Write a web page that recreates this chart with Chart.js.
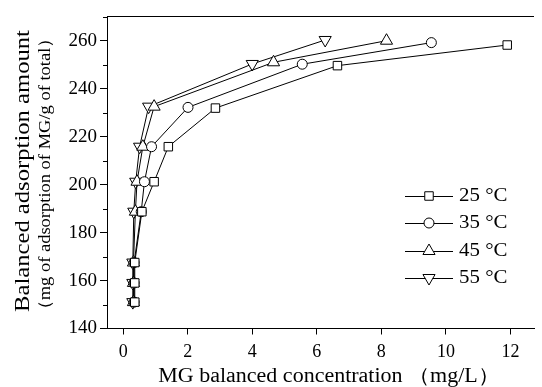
<!DOCTYPE html>
<html lang="en">
<head>
  <meta charset="UTF-8">
  <title>MG adsorption isotherms</title>
  <script src="https://cdn.jsdelivr.net/npm/chart.js"></script>
  <style>
    body {
      margin: 0;
      padding: 0;
      background: #fff;
    }

    #wrap {
      width: 542px;
      height: 387px;
      position: relative;
    }
  </style>
</head>
<body>
  <div id="wrap">
    <canvas id="isoChart"></canvas>
  </div>

  <script>
    // data
    const seriesLabels = ['25 \u00B0C', '35 \u00B0C', '45 \u00B0C', '55 \u00B0C'];

    const x25 = [0.36, 0.36, 0.36, 0.58, 0.96, 1.40, 2.86, 6.64, 11.9];
    const y25 = [151, 159, 167.5, 188.7, 201.2, 215.8, 231.9, 249.6, 258.2];

    const x35 = [0.34, 0.34, 0.34, 0.56, 0.66, 0.88, 2.01, 5.55, 9.55];
    const y35 = [151, 159, 167.5, 188.7, 201.2, 215.8, 232.2, 250.2, 259.2];

    const x45 = [0.32, 0.32, 0.32, 0.38, 0.43, 0.61, 0.96, 4.66, 8.16];
    const y45 = [151, 159, 167.5, 188.7, 201.2, 215.8, 232.5, 251, 260];

    const x55 = [0.30, 0.30, 0.30, 0.33, 0.39, 0.51, 0.79, 4.0, 6.26];
    const y55 = [151, 159, 167.5, 188.7, 201.2, 215.8, 232.5, 250.3, 260.3];

    const xTicks = [0, 2, 4, 6, 8, 10, 12];
    const yTicks = [140, 160, 180, 200, 220, 240, 260];
    const yMinorTicks = [150, 170, 190, 210, 230, 250, 270];

    const serif = "'Liberation Serif', 'Times New Roman', serif";

    const markers = [
      { style: 'rect', radius: 6, rotation: 0 },
      { style: 'circle', radius: 5, rotation: 0 },
      { style: 'triangle', radius: 7, rotation: 0 },
      { style: 'triangle', radius: 7, rotation: 180 }
    ];

    const toPoints = (xs, ys) => xs.map((x, i) => ({ x: x, y: ys[i] }));
    const allX = [x25, x35, x45, x55];
    const allY = [y25, y35, y45, y55];

    const datasets = seriesLabels.map((label, i) => ({
      label: label,
      data: toPoints(allX[i], allY[i]),
      showLine: true,
      borderColor: '#000',
      borderWidth: 1,
      backgroundColor: '#fff',
      pointStyle: markers[i].style,
      pointRadius: markers[i].radius,
      pointRotation: markers[i].rotation,
      pointBorderColor: '#000',
      pointBackgroundColor: '#fff',
      pointBorderWidth: 1
    }));

    // the reference type is a bit wider than Liberation Serif, so stretch it
    const wideText = (ctx, text, x, y, angle, stretch) => {
      ctx.save();
      ctx.translate(x, y);
      ctx.rotate(angle);
      ctx.scale(stretch, 1);
      ctx.fillText(text, 0, 0);
      ctx.restore();
    };

    // titles, top frame line, minor ticks and the legend
    const decorPlugin = {
      id: 'decor',
      afterDraw(chart) {
        const ctx = chart.ctx;
        const area = chart.chartArea;
        const ys = chart.scales.y;
        ctx.save();
        ctx.strokeStyle = '#000';
        ctx.lineWidth = 1;

        // top frame line
        ctx.beginPath();
        ctx.moveTo(area.left, area.top + 0.5);
        ctx.lineTo(area.right, area.top + 0.5);
        ctx.stroke();

        // minor y ticks
        yMinorTicks.forEach(v => {
          const py = Math.round(ys.getPixelForValue(v)) + 0.5;
          ctx.beginPath();
          ctx.moveTo(area.left - 4, py);
          ctx.lineTo(area.left, py);
          ctx.stroke();
        });

        ctx.fillStyle = '#000';

        // x title
        ctx.textAlign = 'center';
        ctx.textBaseline = 'middle';
        ctx.font = '20px ' + serif;
        wideText(ctx, 'MG balanced concentration \uFF08mg/L\uFF09', 329, 377, 0, 1.1);

        // y titles
        ctx.font = '22px ' + serif;
        wideText(ctx, 'Balanced adsorption amount', 23, 171, -Math.PI / 2, 1.12);
        ctx.font = '16.5px ' + serif;
        wideText(ctx, '\uFF08mg of adsorption of MG/g of total\uFF09', 46, 174, -Math.PI / 2, 1.12);

        // legend
        const rowY = [196, 223, 251, 278];
        ctx.textAlign = 'left';
        ctx.font = '19px ' + serif;
        seriesLabels.forEach((label, i) => {
          ctx.beginPath();
          ctx.moveTo(405, rowY[i] + 0.5);
          ctx.lineTo(453, rowY[i] + 0.5);
          ctx.stroke();
          ctx.fillStyle = '#fff';
          Chart.helpers.drawPoint(ctx, {
            pointStyle: markers[i].style,
            radius: markers[i].radius,
            rotation: markers[i].rotation,
            borderWidth: 1
          }, 429, rowY[i]);
          ctx.fillStyle = '#000';
          wideText(ctx, label, 459, rowY[i], 0, 1.1);
        });

        ctx.restore();
      }
    };

    const ctxIso = document.getElementById('isoChart').getContext('2d');

    const isoChart = new Chart(ctxIso, {
      type: 'scatter',
      data: { datasets: datasets },
      plugins: [decorPlugin],
      options: {
        responsive: true,
        maintainAspectRatio: false,
        animation: false,
        layout: { padding: { top: 16, right: 0, left: 0, bottom: 0 } },
        plugins: {
          legend: { display: false },
          tooltip: { enabled: false }
        },
        scales: {
          x: {
            type: 'linear',
            min: -0.5,
            max: 12.73,
            afterBuildTicks: scale => { scale.ticks = xTicks.map(v => ({ value: v })); },
            afterFit: scale => { scale.height = 58.5; },
            grid: {
              drawOnChartArea: false,
              drawTicks: true,
              tickLength: 6,
              color: '#000'
            },
            border: { color: '#000', width: 1 },
            ticks: {
              color: '#000',
              font: { family: serif, size: 18 },
              padding: 7,
              maxRotation: 0
            }
          },
          y: {
            type: 'linear',
            min: 140,
            max: 270.3,
            afterBuildTicks: scale => { scale.ticks = yTicks.map(v => ({ value: v })); },
            afterFit: scale => { scale.width = 107; },
            grid: {
              drawOnChartArea: false,
              drawTicks: true,
              tickLength: 7,
              color: '#000'
            },
            border: { color: '#000', width: 1 },
            ticks: {
              color: '#000',
              font: { family: serif, size: 19 },
              padding: 3
            }
          }
        }
      }
    });
  </script>
</body>
</html>
